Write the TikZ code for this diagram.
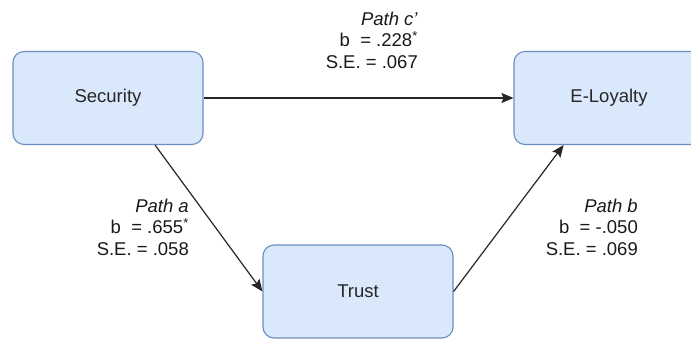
\documentclass[tikz,border=0pt]{standalone}
\usepackage{fontspec}
\setmainfont{Liberation Sans}
\usetikzlibrary{arrows.meta,calc}
\definecolor{boxfill}{HTML}{DAE8FC}
\definecolor{boxline}{HTML}{6C8EBF}
\definecolor{arrowcol}{HTML}{262626}
\tikzset{
  varbox/.style={draw=boxline, fill=boxfill, line width=1.1pt, rounded corners=11pt,
    minimum width=190pt, minimum height=93pt, inner sep=0pt,
    font=\fontsize{18.5}{22}\selectfont, text=black!85},
  pathlabel/.style={align=right, inner sep=0pt, anchor=east,
    font=\fontsize{18.5}{21.5}\selectfont, text=black!90},
  effect/.style={draw=arrowcol, line width=1.2pt, -{Stealth[length=12pt,width=10pt,inset=2pt]}}
}
\newcommand{\sig}{\textsuperscript{*}}
\begin{document}
\begin{tikzpicture}[x=1pt,y=-1pt]
  \useasboundingbox[fill=white] (0,0) rectangle (691,341);

  % the three variables
  \node[varbox] (sec) at (108,98)  {Security};
  \node[varbox] (tru) at (358,291.5) {Trust};
  \node[varbox] (elo) at (609,98)  {E-Loyalty};

  % direct and indirect effects
  \draw[effect] (sec.east) -- (elo.west);
  \draw[effect] (sec.-45) -- (tru.west);
  \draw[effect] (tru.east) -- (elo.-134);

  % coefficients
  \node[pathlabel] (lc) at (418,40)  {\textit{Path c'}\\b\ \ = .228\sig\\S.E. = .067};
  \node[pathlabel] (la) at (189,227) {\textit{Path a}\\b\ \ = .655\sig\\S.E. = .058};
  \node[pathlabel] (lb) at (638,227) {\textit{Path b}\\b\ \ = -.050\\S.E. = .069};
\end{tikzpicture}
\end{document}
